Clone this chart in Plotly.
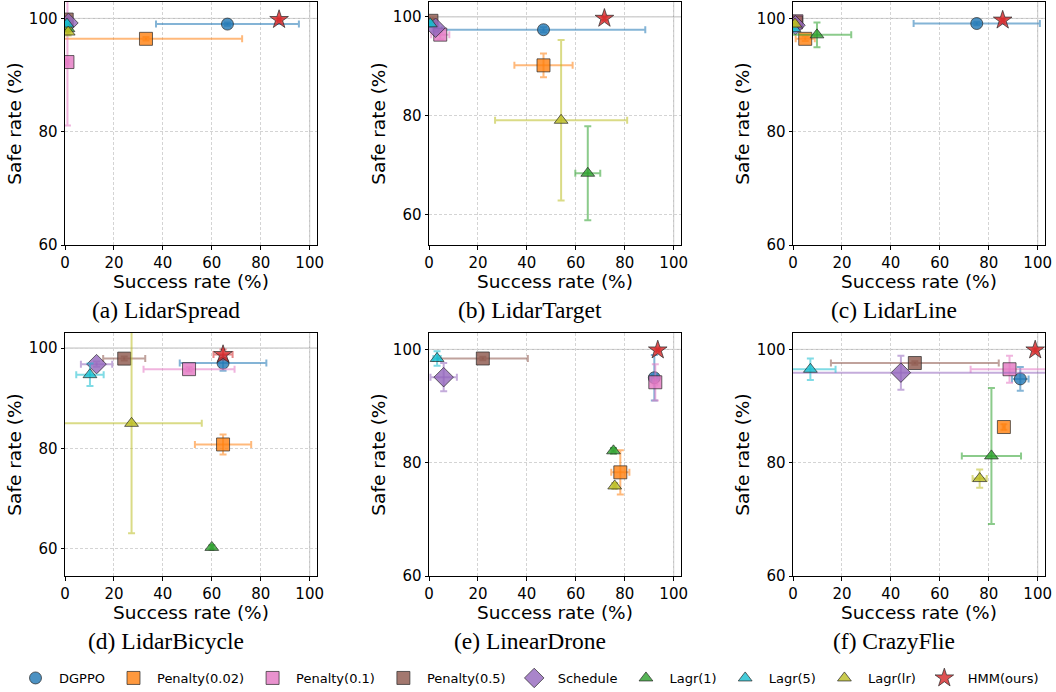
import plotly.graph_objects as go

methods = ["DGPPO", "Penalty(0.02)", "Penalty(0.1)", "Penalty(0.5)", "Schedule",
           "Lagr(1)", "Lagr(5)", "Lagr(lr)", "HMM(ours)"]
colors = ["#1f77b4", "#ff7f0e", "#e377c2", "#8c564b", "#9467bd",
          "#2ca02c", "#17becf", "#bcbd22", "#d62728"]
symbols = ["circle", "square", "square", "square", "diamond",
           "triangle-up", "triangle-up", "triangle-up", "star"]
sizes = [12, 13, 13, 13, 15, 12, 12, 12, 14]

env_names = ["(a) LidarSpread", "(b) LidarTarget", "(c) LidarLine",
             "(d) LidarBicycle", "(e) LinearDrone", "(f) CrazyFlie"]

# success rate (x), its error, safe rate (y), its error  -- order follows `methods`
spread_x = [66.4, 33.1, 1.0, 0.7, 1.4, 1.2, 0.8, 1.3, 87.5]
spread_xerr = [29.2, 39.3, 0.5, 0.3, 0.5, 0.5, 0.4, 0.5, 0.5]
spread_y = [99.0, 96.4, 92.3, 99.8, 99.2, 98.2, 99.0, 97.6, 99.8]
spread_yerr = [0.3, 0.3, 11.2, 0.2, 0.4, 0.5, 0.4, 0.6, 0.2]

target_x = [46.8, 46.8, 4.6, 1.0, 2.7, 64.9, 0.5, 54.0, 71.7]
target_xerr = [41.6, 11.9, 3.7, 0.6, 1.2, 5.1, 0.4, 27.0, 0.5]
target_y = [97.4, 90.2, 96.4, 99.2, 97.8, 68.4, 98.6, 79.1, 99.7]
target_yerr = [0.5, 2.4, 1.0, 0.4, 0.8, 9.5, 0.5, 16.2, 0.3]

line_x = [75.1, 5.0, 1.4, 1.2, 1.0, 9.8, 0.4, 0.8, 85.7]
line_xerr = [25.8, 3.9, 0.5, 0.4, 0.5, 14.0, 0.3, 0.4, 0.5]
line_y = [99.1, 96.4, 99.5, 99.3, 98.8, 97.1, 98.2, 99.0, 99.7]
line_yerr = [0.3, 0.4, 0.3, 0.3, 0.4, 2.2, 0.5, 0.4, 0.2]

bicycle_x = [64.6, 64.6, 50.7, 24.2, 12.9, 60.0, 10.2, 27.2, 64.6]
bicycle_xerr = [17.7, 11.5, 18.6, 8.6, 6.4, 0.5, 5.6, 28.7, 3.9]
bicycle_y = [97.0, 80.8, 95.8, 97.9, 96.8, 60.3, 94.7, 85.0, 98.7]
bicycle_yerr = [1.5, 2.0, 0.4, 0.4, 0.5, 0.4, 2.25, 21.9, 1.0]

drone_x = [92.1, 78.2, 92.5, 22.0, 6.0, 75.4, 3.3, 75.9, 93.5]
drone_xerr = [1.0, 3.7, 0.8, 18.4, 5.4, 0.8, 1.5, 0.6, 0.5]
drone_y = [95.0, 78.3, 94.2, 98.4, 95.1, 82.1, 98.4, 75.9, 99.9]
drone_yerr = [4.0, 3.9, 3.2, 0.3, 2.5, 0.5, 1.3, 0.5, 0.2]

crazy_x = [92.9, 86.2, 88.5, 49.8, 44.1, 81.1, 7.1, 76.3, 99.0]
crazy_xerr = [3.4, 0.5, 15.9, 34.3, 60.0, 12.1, 10.3, 2.9, 0.3]
crazy_y = [94.8, 86.3, 96.5, 97.6, 95.9, 81.2, 96.5, 77.2, 99.9]
crazy_yerr = [2.1, 0.5, 2.4, 0.3, 3.0, 12.0, 1.9, 1.6, 0.2]

x_ticks = [0, 20, 40, 60, 80, 100]
y_ticks = [60, 80, 100]
x_range = [0, 103]
y_ranges = [[60, 102.9], [53.9, 103], [60, 102.9], [54.6, 103], [60, 102.9], [60, 102.9]]

panels = [
    (spread_x, spread_xerr, spread_y, spread_yerr),
    (target_x, target_xerr, target_y, target_yerr),
    (line_x, line_xerr, line_y, line_yerr),
    (bicycle_x, bicycle_xerr, bicycle_y, bicycle_yerr),
    (drone_x, drone_xerr, drone_y, drone_yerr),
    (crazy_x, crazy_xerr, crazy_y, crazy_yerr),
]

W, H = 1056, 692
col_px = [(65, 317), (429, 681), (793, 1045)]
row_px = [(2, 245), (333, 576)]
caption_cx = [166, 530, 894]


def rgba(hex_color, a):
    h = hex_color.lstrip("#")
    r, g, b = int(h[0:2], 16), int(h[2:4], 16), int(h[4:6], 16)
    return f"rgba({r},{g},{b},{a})"


fig = go.Figure()
layout = dict(
    width=W, height=H, margin=dict(l=0, r=0, t=0, b=0, autoexpand=False),
    paper_bgcolor="white", plot_bgcolor="white",
    font=dict(family="DejaVu Sans", size=15, color="black"),
    showlegend=True,
    legend=dict(orientation="h", x=0.5, xanchor="center", y=1 - 678 / H, yanchor="middle",
                font=dict(family="DejaVu Sans", size=13), itemwidth=37,
                bgcolor="rgba(0,0,0,0)"),
)
annotations = []
shapes = []

for p, (xs, xe, ys, ye) in enumerate(panels):
    r, c = divmod(p, 3)
    idx = p + 1
    xa = "x" if idx == 1 else f"x{idx}"
    ya = "y" if idx == 1 else f"y{idx}"
    xk = "xaxis" if idx == 1 else f"xaxis{idx}"
    yk = "yaxis" if idx == 1 else f"yaxis{idx}"
    x0, x1 = col_px[c]
    y0, y1 = row_px[r]
    axis_common = dict(showline=True, linecolor="black", linewidth=1, mirror=True,
                       ticks="outside", ticklen=3.5, tickcolor="black",
                       showgrid=True, gridcolor="#d4d4d4", griddash="3px,2px", gridwidth=1,
                       zeroline=False, tickfont=dict(size=15, family="DejaVu Sans"))
    layout[xk] = dict(domain=[x0 / W, x1 / W], anchor=ya, range=x_range,
                      tickvals=x_ticks,
                      title=dict(text="Success rate (%)", font=dict(size=18.5), standoff=0),
                      **axis_common)
    layout[yk] = dict(domain=[1 - y1 / H, 1 - y0 / H], anchor=xa, range=y_ranges[p],
                      tickvals=y_ticks,
                      title=dict(text="Safe rate (%)", font=dict(size=18.5), standoff=2),
                      **axis_common)
    # reference lines at 100 %
    shapes.append(dict(type="line", xref=xa, yref=ya, x0=0, x1=103, y0=100, y1=100,
                       line=dict(color="rgba(120,120,120,0.5)", width=1), layer="below"))
    shapes.append(dict(type="line", xref=xa, yref=ya, x0=100, x1=100,
                       y0=y_ranges[p][0], y1=y_ranges[p][1],
                       line=dict(color="rgba(120,120,120,0.5)", width=1), layer="below"))
    annotations.append(dict(text=env_names[p], xref="paper", yref="paper",
                            x=caption_cx[c] / W, y=1 - (310 + 331 * r) / H,
                            xanchor="center", yanchor="middle", showarrow=False,
                            font=dict(family="Liberation Serif", size=23.5, color="black")))
    for m in range(len(methods)):
        fig.add_trace(go.Scatter(
            x=[xs[m]], y=[ys[m]], xaxis=xa, yaxis=ya, mode="markers",
            name=methods[m], legendgroup=methods[m], showlegend=(p == 0),
            marker=dict(symbol=symbols[m], size=sizes[m], color=rgba(colors[m], 0.8),
                        line=dict(color="rgba(40,40,40,0.7)", width=1)),
            error_x=dict(type="data", array=[xe[m]], color=rgba(colors[m], 0.55),
                         thickness=2, width=3.5),
            error_y=dict(type="data", array=[ye[m]], color=rgba(colors[m], 0.55),
                         thickness=2, width=3.5),
            cliponaxis=True,
        ))

layout["annotations"] = annotations
layout["shapes"] = shapes
fig.update_layout(**layout)
fig.write_html("out.html")
